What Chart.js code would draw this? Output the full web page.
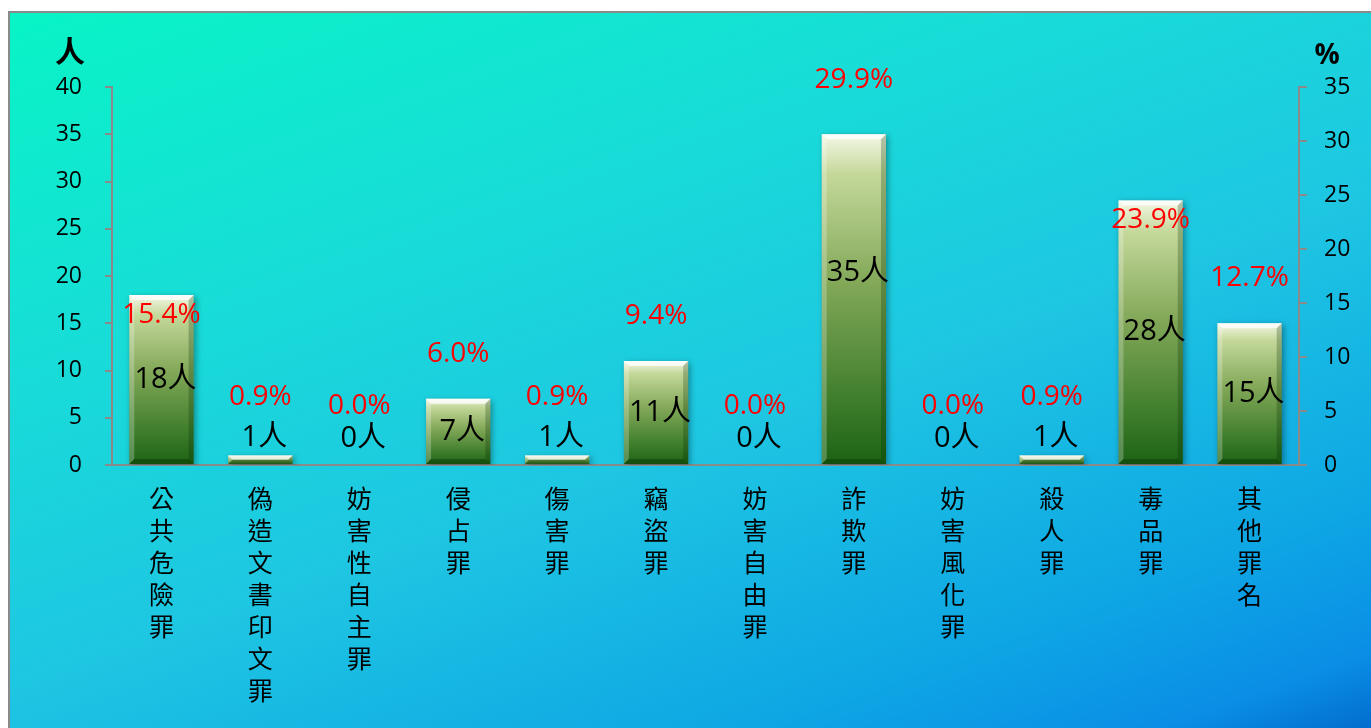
<!DOCTYPE html>
<html>
<head>
<meta charset="utf-8">
<script src="https://cdn.jsdelivr.net/npm/chart.js@4.4.1/dist/chart.umd.min.js"></script>
<style>
  html, body { margin: 0; padding: 0; background: #fff; overflow: hidden; }
  #wrap { position: relative; width: 1371px; height: 728px; }
  #bg {
    position: absolute; left: 8px; top: 11px; width: 1380px; height: 730px;
    border: 2px solid #8a8a8a;
    background: linear-gradient(160deg, #08f4c6 0%, #18dcd8 30%, #1ec6e2 55%, #0ea6e4 80%, #0a8ee6 92%, #0064c8 100%);
  }
  canvas { position: absolute; left: 0; top: 0; }
</style>
</head>
<body>
<div id="wrap">
  <div id="bg"></div>
  <canvas id="chartCrime" width="1371" height="728"></canvas>
</div>
<script>
// 資料
var categories = ['公共危險罪', '偽造文書印文罪', '妨害性自主罪', '侵占罪', '傷害罪', '竊盜罪',
                  '妨害自由罪', '詐欺罪', '妨害風化罪', '殺人罪', '毒品罪', '其他罪名'];
var counts = [18, 1, 0, 7, 1, 11, 0, 35, 0, 1, 28, 15];
var percents = [15.4, 0.9, 0.0, 6.0, 0.9, 9.4, 0.0, 29.9, 0.0, 0.9, 23.9, 12.7];
var leftMax = 40, rightMax = 35, tickStep = 5;

(function () {
  if (typeof Chart === 'undefined') return;

  var axisGray = '#8a8a8a';
  var sansFont = "'Open Sans', 'Noto Sans CJK TC', sans-serif";
  var cjkFont = "'Noto Sans CJK TC', sans-serif";

  function barGradient(context) {
    var chart = context.chart;
    if (!chart.chartArea) return '#6a9a40';
    var y = chart.scales.y;
    var top = y.getPixelForValue(context.raw);
    var base = y.getPixelForValue(0);
    if (base - top < 1) top = base - 1;
    var g = chart.ctx.createLinearGradient(0, top, 0, base);
    g.addColorStop(0, '#f4f8e6');
    g.addColorStop(0.12, '#c4d89a');
    g.addColorStop(0.45, '#82a858');
    g.addColorStop(0.8, '#3f7e2c');
    g.addColorStop(1, '#1c6214');
    return g;
  }

  // ombre + biseau des barres
  var barFx = {
    id: 'barFx',
    beforeDatasetDraw: function (chart, args) {
      if (args.index !== 0) return;
      var ctx = chart.ctx;
      ctx.save();
      ctx.shadowColor = 'rgba(0,0,0,0.35)';
      ctx.shadowBlur = 6;
      ctx.shadowOffsetX = 2;
      ctx.shadowOffsetY = 2;
    },
    afterDatasetDraw: function (chart, args) {
      if (args.index !== 0) return;
      var ctx = chart.ctx;
      ctx.restore();
      var meta = chart.getDatasetMeta(0);
      meta.data.forEach(function (bar, i) {
        if (!counts[i]) return;
        var p = bar.getProps(['x', 'y', 'base', 'width'], true);
        var l = p.x - p.width / 2, r = p.x + p.width / 2, t = p.y, b = p.base;
        var bev = Math.min(5, (b - t) / 2);
        ctx.save();
        ctx.fillStyle = 'rgba(255,255,255,0.75)';
        ctx.beginPath();
        ctx.moveTo(l, t); ctx.lineTo(r, t); ctx.lineTo(r - bev, t + bev); ctx.lineTo(l + bev, t + bev);
        ctx.closePath(); ctx.fill();
        ctx.fillStyle = 'rgba(255,255,255,0.25)';
        ctx.beginPath();
        ctx.moveTo(l, t); ctx.lineTo(l + bev, t + bev); ctx.lineTo(l + bev, b - bev); ctx.lineTo(l, b);
        ctx.closePath(); ctx.fill();
        ctx.fillStyle = 'rgba(0,40,0,0.25)';
        ctx.beginPath();
        ctx.moveTo(r, t); ctx.lineTo(r - bev, t + bev); ctx.lineTo(r - bev, b - bev); ctx.lineTo(r, b);
        ctx.closePath(); ctx.fill();
        ctx.fillStyle = 'rgba(0,40,0,0.35)';
        ctx.beginPath();
        ctx.moveTo(l, b); ctx.lineTo(l + bev, b - bev); ctx.lineTo(r - bev, b - bev); ctx.lineTo(r, b);
        ctx.closePath(); ctx.fill();
        ctx.restore();
      });
    }
  };

  // étiquettes : nombre (noir) et pourcentage (rouge), titres d'axes
  var labelsFx = {
    id: 'labelsFx',
    afterDatasetsDraw: function (chart) {
      var ctx = chart.ctx;
      var meta = chart.getDatasetMeta(0);
      ctx.save();
      ctx.textAlign = 'center';
      ctx.textBaseline = 'middle';
      meta.data.forEach(function (bar, i) {
        var p = bar.getProps(['x', 'y', 'base'], true);
        var h = p.base - p.y;
        var cy = Math.min((p.y + p.base) / 2 - (h > 300 ? 26 : 0), p.base - 26);
        ctx.fillStyle = '#000';
        ctx.font = '29px ' + sansFont;
        ctx.fillText(counts[i] + '人', p.x + 4, cy);
        var py = h > 150 ? p.y + 20 : p.y - 45 - (counts[i] < 2 ? 14 : 0);
        if (h > 300) py = p.y - 54;
        ctx.fillStyle = '#ff0000';
        ctx.font = '28px ' + sansFont;
        ctx.fillText(percents[i].toFixed(1) + '%', p.x, py);
      });
      var y = chart.scales.y, y1 = chart.scales.y1;
      ctx.fillStyle = '#000';
      ctx.font = 'bold 30px ' + cjkFont;
      ctx.fillText('人', y.left + 70, y.top - 36);
      ctx.font = 'bold 28px ' + sansFont;
      ctx.fillText('%', y1.right - 44, y1.top - 31);
      ctx.restore();
    }
  };

  try {
    new Chart(document.getElementById('chartCrime'), {
      type: 'bar',
      data: {
        labels: categories.map(function (c) { return Array.from(c); }),
        datasets: [
          {
            label: '人數',
            data: counts,
            yAxisID: 'y',
            backgroundColor: barGradient,
            borderWidth: 0,
            barPercentage: 0.65,
            categoryPercentage: 1
          },
          {
            type: 'line',
            label: '百分比',
            data: percents,
            yAxisID: 'y1',
            showLine: false,
            pointRadius: 0,
            borderColor: 'transparent',
            backgroundColor: 'transparent'
          }
        ]
      },
      options: {
        responsive: false,
        animation: false,
        devicePixelRatio: 1,
        layout: { padding: { top: 87, left: 0, right: 0, bottom: 0 } },
        plugins: { legend: { display: false }, tooltip: { enabled: false } },
        scales: {
          x: {
            grid: { display: false },
            border: { display: true, color: axisGray, width: 2 },
            ticks: {
              color: '#000', autoSkip: false, maxRotation: 0, padding: 9,
              font: { family: cjkFont, size: 25, lineHeight: 1.28 }
            },
            afterFit: function (s) { s.height = 263; }
          },
          y: {
            position: 'left',
            min: 0, max: leftMax,
            grid: { drawOnChartArea: false, color: axisGray, tickLength: 7, lineWidth: 2 },
            border: { display: true, color: axisGray, width: 2 },
            ticks: { stepSize: tickStep, color: '#000', padding: 23, font: { family: sansFont, size: 23 } },
            afterFit: function (s) { s.width = 112; }
          },
          y1: {
            position: 'right',
            min: 0, max: rightMax,
            grid: { drawOnChartArea: false, color: axisGray, tickLength: 8, lineWidth: 2 },
            border: { display: true, color: axisGray, width: 2 },
            ticks: { stepSize: tickStep, color: '#000', padding: 17, font: { family: sansFont, size: 23 } },
            afterFit: function (s) { s.width = 72; }
          }
        }
      },
      plugins: [barFx, labelsFx]
    });
  } catch (e) { console.error('chartCrime', e); }
})();
</script>
</body>
</html>
